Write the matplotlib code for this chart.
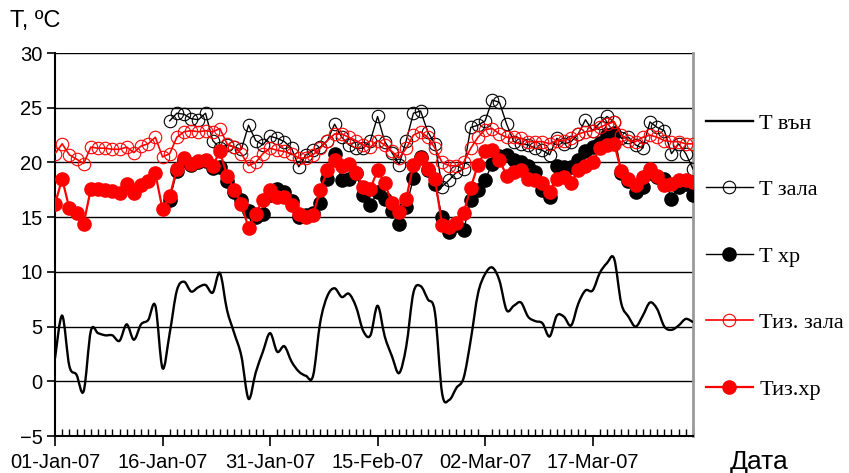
import numpy as np
import pandas as pd
import matplotlib
matplotlib.use("Agg")
import matplotlib.pyplot as plt
import matplotlib.dates as mdates
from matplotlib.path import Path
from matplotlib.patches import PathPatch
from matplotlib.lines import Line2D

nan = np.nan
dates = pd.date_range("2007-01-01", periods=90, freq="D")

t_out = [2.1, 6.0, 1.4, 0.6, -0.9, 4.6, 4.4, 4.2, 4.2, 3.7,
         5.2, 3.8, 5.2, 5.6, 6.9, 1.2, 4.4, 8.3, 9.1, 8.2,
         8.6, 8.8, 8.1, 9.9, 6.5, 4.4, 2.3, -1.6, 0.8, 2.7,
         4.4, 2.7, 3.2, 1.8, 0.9, 0.5, 0.5, 5.4, 7.8, 8.5,
         7.7, 8.0, 6.8, 4.6, 4.2, 6.9, 4.1, 2.3, 0.75, 3.2,
         8.1, 8.7, 7.5, 6.3, -1.1, -1.7, -0.6, 0.3, 3.8, 8.0,
         9.8, 10.4, 9.2, 6.5, 6.9, 7.2, 5.9, 5.5, 5.3, 4.1,
         6.0, 5.9, 5.1, 7.1, 8.3, 8.3, 9.9, 10.8, 11.2, 7.1,
         5.9, 5.0, 6.0, 7.2, 6.6, 5.0, 4.7, 5.1, 5.7, 5.4]

t_hall = [nan] * 16 + [
    23.8, 24.5, 24.4, 24.0, 23.9, 24.5, 22.0, 21.3, 21.6, 21.4,
    21.2, 23.4, 22.0, 21.6, 22.4, 22.2, 21.9, 21.3, 19.6, 20.7,
    21.1, 21.4, 22.0, 23.5, 22.3, 21.6, 21.3, 21.3, 22.0, 24.2,
    21.9, 20.9, 19.8, 22.0, 24.5, 24.7, 22.8, 21.7, 17.8, 18.4,
    19.1, 19.4, 23.2, 23.4, 23.8, 25.7, 25.5, 23.5, 21.9, 21.7,
    21.6, 21.3, 21.1, 20.7, 22.2, 21.7, 21.9, 22.6, 23.9, 22.9,
    23.6, 24.2, 23.7, 22.2, 22.3, 21.6, 21.3, 23.7, 23.2, 22.9,
    20.8, 21.7, 20.8, 19.4]

t_store = [nan] * 16 + [
    16.6, 19.2, 20.2, 19.8, 20.0, 20.1, 19.5, 19.6, 18.3, 17.3,
    16.6, 15.6, 15.0, 15.3, 17.0, 17.6, 17.3, 16.5, 15.0, 15.2,
    15.4, 16.3, 18.5, 20.8, 18.4, 18.5, 19.0, 17.0, 16.1, 17.3,
    16.7, 15.6, 14.4, 15.9, 18.6, 20.5, 19.3, 18.0, 15.0, 13.6,
    14.3, 13.8, 16.6, 17.5, 18.4, 19.9, 20.6, 20.7, 20.2, 20.0,
    19.7, 19.1, 17.5, 16.8, 19.7, 19.6, 19.6, 20.2, 21.0, 21.4,
    21.8, 22.5, 22.7, 19.0, 18.3, 17.3, 17.8, 19.0, 18.7, 18.5,
    16.7, 17.8, 18.0, 17.0]

tiz_hall = [20.8, 21.7, 20.7, 20.3, 19.9, 21.4, 21.3, 21.3, 21.2, 21.2,
            21.4, 20.9, 21.5, 21.7, 22.3, 20.5, 20.8, 22.3, 22.8, 22.9,
            22.8, 22.9, 22.8, 23.1, 21.7, 21.4, 20.8, 19.7, 20.0, 20.8,
            21.3, 21.1, 21.0, 20.8, 20.4, 20.4, 20.7, 21.3, 22.0, 22.6,
            22.6, 22.3, 22.0, 21.6, 21.4, 22.0, 21.6, 21.0, 20.4, 21.3,
            22.5, 22.8, 22.3, 21.3, 20.0, 19.7, 19.7, 20.0, 21.3, 22.3,
            23.0, 23.1, 22.6, 22.3, 22.3, 22.2, 21.9, 21.9, 21.9, 21.7,
            22.0, 22.0, 22.2, 22.6, 22.8, 22.9, 23.2, 23.5, 23.7, 22.5,
            22.0, 21.9, 22.3, 22.5, 22.3, 22.0, 21.9, 21.9, 21.7, 21.7]

tiz_store = [16.2, 18.5, 15.8, 15.4, 14.4, 17.6, 17.6, 17.5, 17.4, 17.2,
             18.0, 17.2, 17.9, 18.3, 19.0, 15.7, 16.9, 19.4, 20.4, 19.9,
             20.1, 20.2, 19.7, 21.0, 18.8, 17.5, 16.2, 14.0, 15.3, 16.6,
             17.5, 16.8, 16.8, 16.1, 15.3, 15.0, 15.2, 17.5, 19.3, 20.2,
             19.7, 19.9, 19.0, 17.8, 17.6, 19.3, 18.1, 16.3, 15.5, 16.7,
             19.8, 20.4, 19.4, 18.5, 14.3, 14.1, 14.5, 15.4, 17.7, 19.8,
             21.0, 21.1, 20.2, 18.8, 19.1, 19.3, 18.5, 18.4, 18.1, 17.3,
             18.5, 18.7, 18.1, 19.3, 19.7, 20.0, 21.3, 21.6, 21.7, 19.2,
             18.5, 17.9, 18.7, 19.4, 18.8, 17.9, 18.0, 18.4, 18.4, 18.2]

labels = ["T вън", "T зала", "T хр", "Тиз. зала", "Тиз.хр"]
tick_dates = dates[::15]
y_ticks = [-5, 0, 5, 10, 15, 20, 25, 30]

W, H, DPI = 849, 473, 100
fig = plt.figure(figsize=(W / DPI, H / DPI), dpi=DPI)
ax = fig.add_axes([55 / W, 1 - 436 / H, (693 - 55) / W, (436 - 53) / H])

xn = mdates.date2num(dates)
yo = np.asarray(t_out, float)

# smooth (Excel-like) curve for outside temperature
verts = [(xn[0], yo[0])]
codes = [Path.MOVETO]
n = len(xn)
for i in range(n - 1):
    p0 = np.array([xn[max(i - 1, 0)], yo[max(i - 1, 0)]])
    p1 = np.array([xn[i], yo[i]])
    p2 = np.array([xn[i + 1], yo[i + 1]])
    p3 = np.array([xn[min(i + 2, n - 1)], yo[min(i + 2, n - 1)]])
    c1 = p1 + (p2 - p0) / 6.0
    c2 = p2 - (p3 - p1) / 6.0
    verts += [tuple(c1), tuple(c2), tuple(p2)]
    codes += [Path.CURVE4] * 3
ax.add_patch(PathPatch(Path(verts, codes), fill=False, edgecolor="black",
                       lw=1.7, zorder=3))

MS_OPEN, MS_FILL = 9, 9.5
ax.plot(dates, t_hall, color="black", lw=1.0, marker="o", ms=MS_OPEN,
        mfc="none", mec="black", mew=0.8, zorder=4)
ax.plot(dates, t_store, color="black", lw=1.0, marker="o", ms=MS_FILL,
        mfc="black", mec="black", zorder=5)
ax.plot(dates, tiz_hall, color="red", lw=1.2, marker="o", ms=MS_OPEN,
        mfc="none", mec="red", mew=0.8, zorder=6)
ax.plot(dates, tiz_store, color="red", lw=1.6, marker="o", ms=MS_FILL,
        mfc="red", mec="red", zorder=7)

ax.set_xlim(dates[0], dates[-1])
ax.set_ylim(-5, 30)
ax.set_yticks(y_ticks)
ax.set_xticks(tick_dates)
ax.xaxis.set_major_formatter(mdates.DateFormatter("%d-%b-%y"))
ax.xaxis.set_minor_locator(mdates.DayLocator())
ax.grid(axis="y", color="black", lw=1.0)
ax.set_axisbelow(True)

ax.spines["top"].set_visible(False)
ax.spines["right"].set_color("#9a9a9a")
ax.spines["right"].set_linewidth(2.0)
ax.spines["left"].set_linewidth(1.5)
ax.spines["bottom"].set_linewidth(1.5)

ax.tick_params(axis="y", which="major", direction="out", length=6, width=1.2,
               pad=3)
ax.tick_params(axis="x", which="major", direction="out", length=7, width=1.2,
               pad=5)
ax.tick_params(axis="x", which="minor", direction="in", length=5, width=1.0)
for lab in ax.get_xticklabels() + ax.get_yticklabels():
    lab.set_fontfamily("Liberation Sans")
    lab.set_fontsize(14.5)

fig.text(10 / W, 1 - 21 / H, "T, ºC", family="Liberation Sans", fontsize=17,
         va="center", ha="left")
fig.text(730 / W, 1 - 462 / H, "Дата", family="Liberation Sans", fontsize=19,
         va="center", ha="left")

handles = [
    Line2D([], [], color="black", lw=1.7),
    Line2D([], [], color="black", lw=1.0, marker="o", ms=MS_OPEN, mfc="none",
           mec="black", mew=0.8),
    Line2D([], [], color="black", lw=1.0, marker="o", ms=MS_FILL,
           mfc="black"),
    Line2D([], [], color="red", lw=1.2, marker="o", ms=MS_OPEN, mfc="none",
           mec="red", mew=0.8),
    Line2D([], [], color="red", lw=1.6, marker="o", ms=MS_FILL, mfc="red",
           mec="red"),
]
fig.legend(handles, labels, loc="upper left",
           bbox_to_anchor=(706 / W, 1 - 113 / H), frameon=False,
           prop=dict(family="Liberation Serif", size=16),
           handlelength=2.1, handletextpad=0.3, labelspacing=2.07,
           borderpad=0, borderaxespad=0, numpoints=1)

fig.savefig("out.png", dpi=DPI)
